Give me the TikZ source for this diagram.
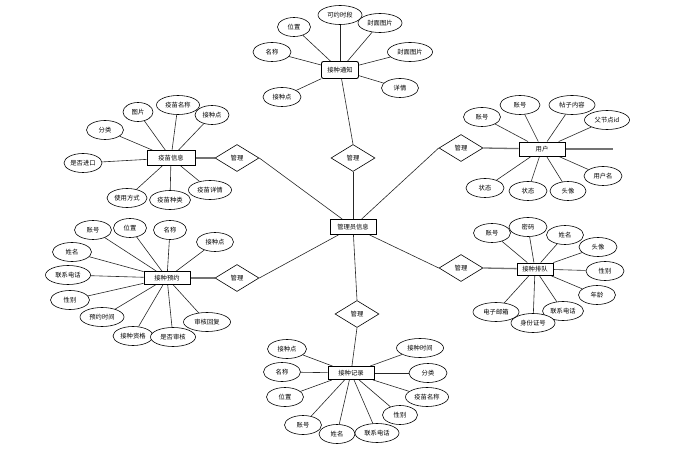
\documentclass[tikz,border=0pt]{standalone}
\usepackage{fontspec}
\setmainfont{Noto Sans CJK SC}
\usetikzlibrary{shapes.geometric,backgrounds}
\tikzset{
  txt/.style={font=\fontsize{6.3}{7}\selectfont},
  attr/.style={ellipse,draw,fill=white,line width=0.6pt,inner sep=0pt,minimum height=19pt,minimum width=#1,txt},
  attr/.default=38pt,
  ent/.style={rectangle,draw,fill=white,line width=0.9pt,inner sep=0pt,minimum width=#1,minimum height=14pt,txt},
  ent/.default=46pt,
  rel/.style={diamond,draw,fill=white,line width=0.6pt,inner sep=0pt,aspect=1.63,minimum width=44pt,minimum height=27pt,txt},
  link/.style={line width=0.6pt,black!85},
  heavy/.style={line width=1.3pt,black!55},
}
\begin{document}
\begin{tikzpicture}[x=1pt,y=-1pt]
\useasboundingbox (0,0) rectangle (674,454);

% center
\node[ent,minimum height=15pt] (c) at (353,227) {管理员信息};

% diamonds
\node[rel] (dT) at (353,158) {管理};
\node[rel] (dLU) at (237,158) {管理};
\node[rel] (dLL) at (237,278) {管理};
\node[rel] (dRU) at (461,148) {管理};
\node[rel] (dRL) at (461,268) {管理};
\node[rel] (dB) at (357,314) {管理};

% top entity
\node[ent=37pt,minimum height=17pt,rounded corners=2pt] (t) at (340,70) {接种通知};
\node[attr=33pt] (t1) at (294,27) {位置};
\node[attr=44pt] (t2) at (340,15) {可约时段};
\node[attr=44pt] (t3) at (380,23) {封面图片};
\node[attr=38pt] (t4) at (272,52) {名称};
\node[attr=45pt] (t5) at (410,52) {封面图片};
\node[attr=38pt] (t6) at (282,97) {接种点};
\node[attr=37pt] (t7) at (400,88) {详情};

% vaccine info
\node[ent=48pt,minimum height=15pt] (v) at (171,158) {疫苗信息};
\node[attr=30pt] (v1) at (138,112) {图片};
\node[attr=43pt] (v2) at (178,105) {疫苗名称};
\node[attr=34pt] (v3) at (212,115) {接种点};
\node[attr=37pt] (v4) at (105,130) {分类};
\node[attr=38pt] (v5) at (83,163) {是否进口};
\node[attr=40pt] (v6) at (127,198) {使用方式};
\node[attr=41pt] (v7) at (170,200) {疫苗种类};
\node[attr=43pt] (v8) at (210,190) {疫苗详情};

% appointment
\node[ent=46pt,minimum height=13pt] (a) at (167,278) {接种预约};
\node[attr=37pt] (a1) at (93,230) {账号};
\node[attr=33pt] (a2) at (130,228) {位置};
\node[attr=33pt] (a3) at (170,230) {名称};
\node[attr=37pt] (a4) at (215,242) {接种点};
\node[attr=39pt] (a5) at (72,252) {姓名};
\node[attr=45pt] (a6) at (68,275) {联系电话};
\node[attr=39pt] (a7) at (70,300) {性别};
\node[attr=44pt] (a8) at (102,317) {预约时间};
\node[attr=40pt] (a9) at (133,336) {接种资格};
\node[attr=45pt] (a10) at (173,337) {是否审核};
\node[attr=47pt] (a11) at (207,322) {审核回复};

% user
\node[ent=46pt] (u) at (542,149) {用户};
\coordinate (uend) at (613,149);
\node[attr=37pt] (u1) at (482,117) {账号};
\node[attr=40pt] (u2) at (520,105) {账号};
\node[attr=46pt] (u3) at (572,105) {帖子内容};
\node[attr=45pt] (u4) at (607,120) {父节点id};
\node[attr=38pt] (u5) at (603,176) {用户名};
\node[attr=38pt] (u6) at (485,188) {状态};
\node[attr=38pt] (u7) at (528,191) {状态};
\node[attr=36pt] (u8) at (568,191) {头像};

% queue
\node[ent=36pt,minimum height=12pt] (q) at (535,269) {接种排队};
\node[attr=37pt] (q1) at (492,233) {账号};
\node[attr=38pt] (q2) at (528,227) {密码};
\node[attr=37pt] (q3) at (565,235) {姓名};
\node[attr=38pt] (q4) at (598,247) {头像};
\node[attr=38pt] (q5) at (605,271) {性别};
\node[attr=37pt] (q6) at (597,295) {年龄};
\node[attr=41pt] (q7) at (563,311) {联系电话};
\node[attr=44pt] (q8) at (533,323) {身份证号};
\node[attr=46pt] (q9) at (496,312) {电子邮箱};

% record
\node[ent=46pt,minimum height=13pt] (r) at (351,373) {接种记录};
\node[attr=39pt] (r1) at (287,349) {接种点};
\node[attr=37pt] (r2) at (282,372) {名称};
\node[attr=37pt] (r3) at (285,397) {位置};
\node[attr=37pt] (r4) at (303,425) {账号};
\node[attr=36pt] (r5) at (337,434) {姓名};
\node[attr=44pt] (r6) at (377,433) {联系电话};
\node[attr=35pt] (r7) at (400,415) {性别};
\node[attr=43pt] (r8) at (427,397) {疫苗名称};
\node[attr=38pt] (r9) at (428,373) {分类};
\node[attr=47pt] (r10) at (420,348) {接种时间};

\begin{scope}[on background layer]
% center to diamonds
\draw[link] (c) -- (dT.south);
\draw[link] (c) -- (dLU.east);
\draw[link] (c) -- (dLL.east);
\draw[link] (c) -- (dRU.west);
\draw[link] (c) -- (dRL.west);
\draw[link] (c) -- (dB.north);
% diamonds to entities
\draw[link] (dT.north) -- (t);
\draw[heavy] (dLU.west) -- (v);
\draw[heavy] (dLL.west) -- (a);
\draw[heavy] (dRU.east) -- (u);
\draw[heavy] (dRL.east) -- (q);
\draw[link] (dB.south) -- (r);
\draw[heavy] (u) -- (uend);
% attributes
\foreach \i in {1,...,7} \draw[link] (t\i) -- (t);
\foreach \i in {1,...,8} \draw[link] (v\i) -- (v);
\foreach \i in {1,...,11} \draw[link] (a\i) -- (a);
\foreach \i in {1,...,8} \draw[link] (u\i) -- (u);
\foreach \i in {1,...,9} \draw[link] (q\i) -- (q);
\foreach \i in {1,...,10} \draw[link] (r\i) -- (r);
\end{scope}
\end{tikzpicture}
\end{document}
